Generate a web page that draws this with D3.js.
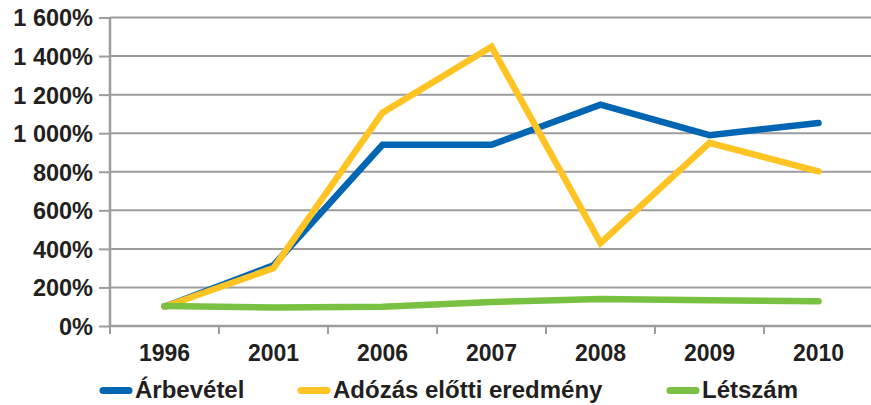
<!DOCTYPE html>
<html><head><meta charset="utf-8">
<script src="https://cdn.jsdelivr.net/npm/d3@7"></script>
<style>body{margin:0;background:#fff}svg{display:block}text{font-family:"Liberation Sans",Arial,sans-serif;font-weight:bold;fill:#231f20}</style>
</head><body><svg id="c" width="871" height="405"></svg>
<script>
const categories = ["1996","2001","2006","2007","2008","2009","2010"];
const arbevetel = [100, 315, 940, 940, 1148, 990, 1053];
const adozas = [100, 300, 1106, 1448, 430, 950, 802];
const letszam = [104, 96, 100, 125, 140, 133, 128];
const yTicks = [0,200,400,600,800,1000,1200,1400,1600];
const seriesNames = ["Árbevétel","Adózás előtti eredmény","Létszám"];
const colors = ["#0066b3","#ffc423","#7ac143"];

const svg = d3.select("#c");
const L = 110, R = 873, T = 17.5, B = 326;
const x = d3.scaleBand().domain(categories).range([L, R]);
const y = d3.scaleLinear().domain([0,1600]).range([B, T]);
const fmt = v => (v >= 1000 ? Math.floor(v/1000) + "\u00a0" + String(v%1000).padStart(3,"0") : String(v)) + "%";

svg.append("g").selectAll("line").data(yTicks.filter(d=>d>0)).join("line")
  .attr("x1", L).attr("x2", 871).attr("y1", d=>y(d)).attr("y2", d=>y(d))
  .attr("stroke", "#9d9d9f").attr("stroke-width", 2);
const yAxis = svg.append("g").attr("transform", `translate(${L},0)`)
  .call(d3.axisLeft(y).tickValues(yTicks).tickSize(11).tickPadding(6).tickFormat(fmt));
yAxis.select(".domain").attr("stroke", "#9d9d9f").attr("stroke-width", 2.5).attr("d", `M0,${T}V${B}`);
yAxis.selectAll(".tick line").attr("stroke", "#9d9d9f").attr("stroke-width", 2);
yAxis.selectAll(".tick text").style("font-size", "23.5px").attr("dy", "0.36em").attr("fill", "#231f20");

const xAxis = svg.append("g").attr("transform", `translate(0,${B})`)
  .call(d3.axisBottom(x).tickSize(0).tickPadding(19));
xAxis.select(".domain").attr("stroke", "#9d9d9f").attr("stroke-width", 2.5).attr("d", `M${L},0H871`);
xAxis.selectAll(".tick text").style("font-size", "23px").attr("fill", "#231f20");
svg.append("g").selectAll("line").data(categories).join("line")
  .attr("x1", d=>x(d)).attr("x2", d=>x(d)).attr("y1", B).attr("y2", B+8)
  .attr("stroke", "#9d9d9f").attr("stroke-width", 2);

const cx = d => x(d) + x.bandwidth()/2;
const line = d3.line().x((d,i)=>cx(categories[i])).y(d=>y(d));
[arbevetel, adozas, letszam].forEach((s,i)=>{
  svg.append("path").datum(s).attr("d", line).attr("fill","none")
    .attr("stroke", colors[i]).attr("stroke-width", 6.5)
    .attr("stroke-linejoin","miter").attr("stroke-linecap","round");
});
const legX = [100, 298, 667];
const lg = svg.append("g");
seriesNames.forEach((n,i)=>{
  lg.append("line").attr("x1", legX[i]+3).attr("x2", legX[i]+29).attr("y1", 390.5).attr("y2", 390.5)
    .attr("stroke", colors[i]).attr("stroke-width", 7).attr("stroke-linecap","round");
  lg.append("text").attr("x", legX[i]+35).attr("y", 398).style("font-size","24px").text(n);
});
</script></body></html>
